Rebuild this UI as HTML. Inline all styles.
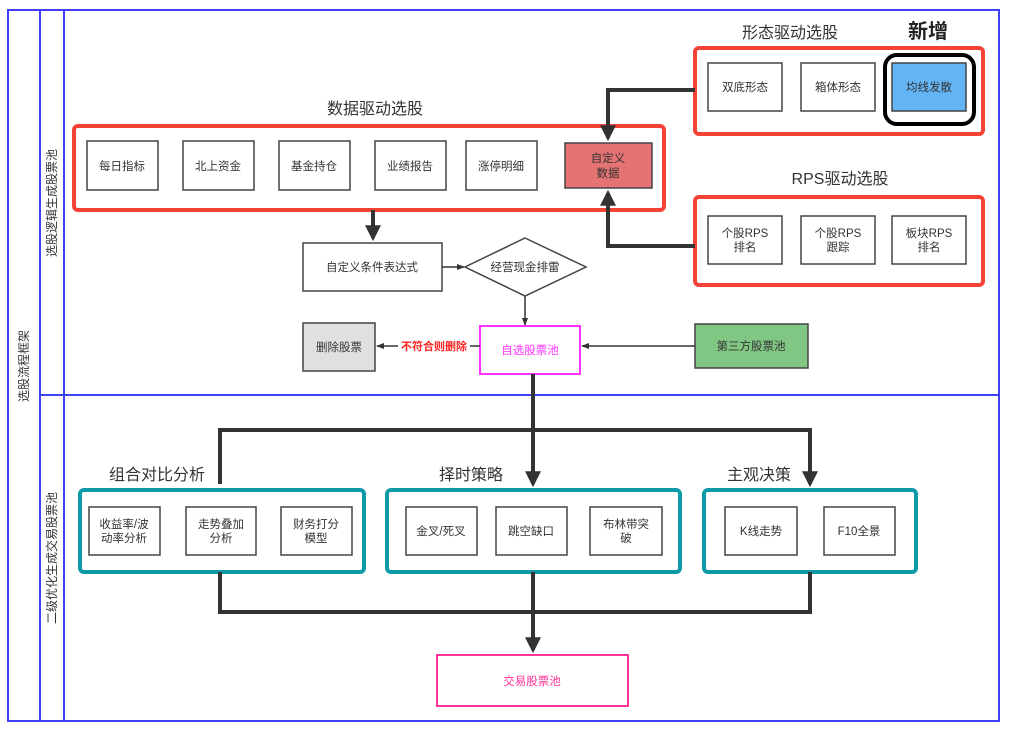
<!DOCTYPE html>
<html><head><meta charset="utf-8"><style>
html,body{margin:0;padding:0;background:#fff;}
svg{display:block;font-family:"Liberation Sans","Noto Sans CJK SC",sans-serif;}
</style></head><body>
<svg width="1009" height="731" viewBox="0 0 1009 731" xmlns="http://www.w3.org/2000/svg">
<defs>
<marker id="ab" markerWidth="4" markerHeight="4" refX="3.2" refY="2" orient="auto" markerUnits="strokeWidth"><path d="M0,0 L4,2 L0,4 z" fill="#333"/></marker>
<marker id="as" markerWidth="8" markerHeight="6" refX="7" refY="3" orient="auto" markerUnits="userSpaceOnUse"><path d="M0,0 L8,3 L0,6 z" fill="#333"/></marker>
</defs>
<!-- frames -->
<g fill="none" stroke="#3f3ff5" stroke-width="2">
<rect x="8" y="10" width="991" height="711"/>
<line x1="40" y1="10" x2="40" y2="721"/>
<line x1="64" y1="10" x2="64" y2="721"/>
<line x1="40" y1="395" x2="999" y2="395"/>
</g>
<g font-size="12" fill="#333" text-anchor="middle">
<text transform="translate(28,366) rotate(-90)">选股流程框架</text>
<text transform="translate(56,203) rotate(-90)">选股逻辑生成股票池</text>
<text transform="translate(56,558) rotate(-90)">二级优化生成交易股票池</text>
</g>

<!-- titles -->
<g font-size="16" fill="#333" text-anchor="middle">
<text x="375" y="114">数据驱动选股</text>
<text x="790" y="38">形态驱动选股</text>
<text x="840" y="184">RPS驱动选股</text>
<text x="157" y="480">组合对比分析</text>
<text x="471" y="480">择时策略</text>
<text x="759" y="480">主观决策</text>
</g>
<text x="928" y="38" font-size="20" font-weight="bold" fill="#222" text-anchor="middle">新增</text>

<!-- red groups -->
<g fill="none" stroke="#f44336" stroke-width="4">
<rect x="74" y="126" width="590" height="84" rx="4"/>
<rect x="695" y="48" width="288" height="86" rx="4"/>
<rect x="695" y="197" width="288" height="88" rx="4"/>
</g>
<!-- teal groups -->
<g fill="none" stroke="#0e9aa7" stroke-width="4">
<rect x="80" y="490" width="284" height="82" rx="4"/>
<rect x="387" y="490" width="293" height="82" rx="4"/>
<rect x="704" y="490" width="212" height="82" rx="4"/>
</g>

<!-- boxes -->
<g stroke="#444" stroke-width="1.5" fill="#fff">
<rect x="87" y="141" width="71" height="49"/>
<rect x="183" y="141" width="71" height="49"/>
<rect x="279" y="141" width="71" height="49"/>
<rect x="375" y="141" width="71" height="49"/>
<rect x="466" y="141" width="71" height="49"/>
<rect x="565" y="143" width="87" height="45" fill="#e57373"/>
<rect x="708" y="63" width="74" height="48"/>
<rect x="801" y="63" width="74" height="48"/>
<rect x="892" y="63" width="74" height="48" fill="#64b5f6"/>
<rect x="708" y="216" width="74" height="48"/>
<rect x="801" y="216" width="74" height="48"/>
<rect x="892" y="216" width="74" height="48"/>
<rect x="303" y="243" width="139" height="48"/>
<polygon points="525,238 586,267 525,296 465,267"/>
<rect x="303" y="323" width="72" height="48" fill="#e0e0e0"/>
<rect x="695" y="324" width="113" height="44" fill="#81c784"/>
<rect x="89" y="507" width="71" height="48"/>
<rect x="186" y="507" width="70" height="48"/>
<rect x="281" y="507" width="71" height="48"/>
<rect x="406" y="507" width="71" height="48"/>
<rect x="496" y="507" width="71" height="48"/>
<rect x="590" y="507" width="72" height="48"/>
<rect x="725" y="507" width="72" height="48"/>
<rect x="824" y="507" width="71" height="48"/>
</g>
<rect x="480" y="326" width="100" height="48" fill="#fff" stroke="#ff33ff" stroke-width="2"/>
<rect x="437" y="655" width="191" height="51" fill="#fff" stroke="#ff3399" stroke-width="2"/>
<rect x="885" y="55" width="89" height="69" rx="12" fill="none" stroke="#000" stroke-width="4"/>

<!-- box text -->
<g font-size="11.5" fill="#333" text-anchor="middle">
<text x="122" y="170">每日指标</text>
<text x="218" y="170">北上资金</text>
<text x="314" y="170">基金持仓</text>
<text x="410" y="170">业绩报告</text>
<text x="501" y="170">涨停明细</text>
<text x="608" y="162">自定义</text>
<text x="608" y="177">数据</text>
<text x="745" y="91">双底形态</text>
<text x="838" y="91">箱体形态</text>
<text x="929" y="91">均线发散</text>
<text x="745" y="237">个股RPS</text>
<text x="745" y="251">排名</text>
<text x="838" y="237">个股RPS</text>
<text x="838" y="251">跟踪</text>
<text x="929" y="237">板块RPS</text>
<text x="929" y="251">排名</text>
<text x="372" y="271">自定义条件表达式</text>
<text x="525" y="271">经营现金排雷</text>
<text x="339" y="351">删除股票</text>
<text x="751" y="350">第三方股票池</text>
<text x="124" y="528">收益率/波</text>
<text x="124" y="542">动率分析</text>
<text x="221" y="528">走势叠加</text>
<text x="221" y="542">分析</text>
<text x="316" y="528">财务打分</text>
<text x="316" y="542">模型</text>
<text x="441" y="535">金叉/死叉</text>
<text x="531" y="535">跳空缺口</text>
<text x="626" y="528">布林带突</text>
<text x="626" y="542">破</text>
<text x="761" y="535">K线走势</text>
<text x="859" y="535">F10全景</text>
</g>
<text x="530" y="354" font-size="11.5" fill="#ff33ff" text-anchor="middle">自选股票池</text>
<text x="532" y="685" font-size="11.5" fill="#ff3399" text-anchor="middle">交易股票池</text>

<!-- thick connectors -->
<g fill="none" stroke="#333" stroke-width="4">
<line x1="373" y1="210" x2="373" y2="238" marker-end="url(#ab)"/>
<polyline points="695,90 608,90 608,138" marker-end="url(#ab)"/>
<polyline points="695,246 608,246 608,193" marker-end="url(#ab)"/>
<line x1="533" y1="374" x2="533" y2="484" marker-end="url(#ab)"/>
<polyline points="220,484 220,430 810,430 810,484" marker-end="url(#ab)"/>
<polyline points="220,572 220,612 810,612 810,572"/>
<line x1="533" y1="572" x2="533" y2="650" marker-end="url(#ab)"/>
</g>
<!-- thin connectors -->
<g fill="none" stroke="#333" stroke-width="1.5">
<line x1="442" y1="267" x2="464" y2="267" marker-end="url(#as)"/>
<line x1="525" y1="296" x2="525" y2="325" marker-end="url(#as)"/>
<line x1="695" y1="346" x2="582" y2="346" marker-end="url(#as)"/>
<line x1="480" y1="346" x2="470" y2="346"/>
<line x1="398" y1="346" x2="377" y2="346" marker-end="url(#as)"/>
</g>
<text x="434" y="350" font-size="11" font-weight="bold" fill="#ff2222" text-anchor="middle">不符合则删除</text>
</svg>
</body></html>
